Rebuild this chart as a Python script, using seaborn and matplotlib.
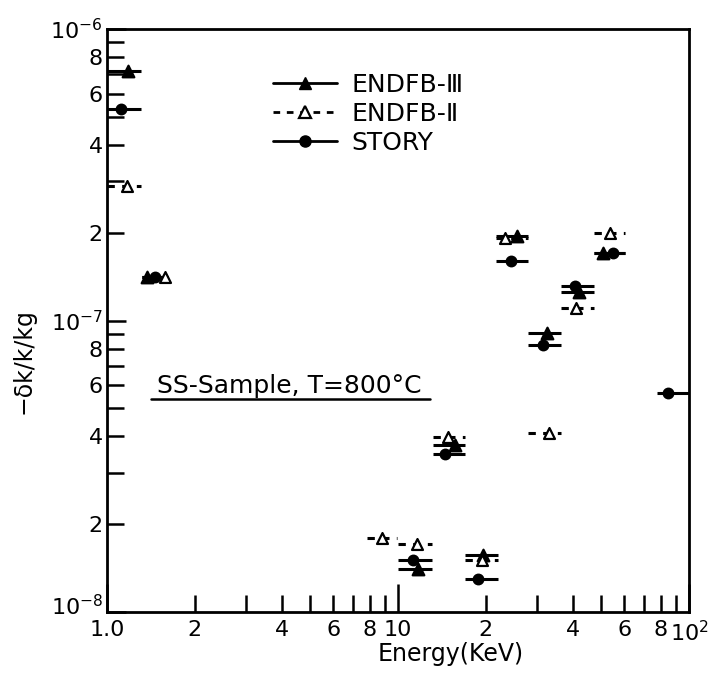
import matplotlib
matplotlib.use("Agg")
import matplotlib.pyplot as plt
import matplotlib.transforms as mtransforms
import pandas as pd
import seaborn as sns
from matplotlib.lines import Line2D
from matplotlib.ticker import FixedLocator, FixedFormatter

# Energy-group sensitivities (-dk/k per kg) for an SS sample at 800 C.
# Each point: marker energy (keV), value, and energy-group bounds (keV).
e3_energy = [1.18, 1.37, 11.7, 15.7, 19.6, 25.6, 32.5, 42.0, 50.6]
e3_value = [7.2e-7, 1.41e-7, 1.41e-8, 3.74e-8, 1.57e-8, 1.95e-7, 9.06e-8, 1.25e-7, 1.70e-7]
e3_lo = [1.0, 1.32, 10.0, 13.2, 17.0, 21.8, 28.0, 36.3, 47.0]
e3_hi = [1.31, 1.62, 13.1, 17.0, 22.0, 28.0, 36.3, 47.0, 60.5]

e2_energy = [1.17, 1.58, 8.8, 11.6, 14.9, 19.4, 23.3, 33.0, 41.0, 53.5]
e2_value = [2.89e-7, 1.41e-7, 1.79e-8, 1.71e-8, 3.98e-8, 1.51e-8, 1.92e-7, 4.1e-8, 1.10e-7, 2.0e-7]
e2_lo = [1.0, 1.32, 7.8, 10.0, 13.2, 17.0, 21.8, 28.0, 36.3, 47.0]
e2_hi = [1.31, 1.62, 9.9, 13.1, 17.0, 22.0, 28.0, 36.3, 47.0, 60.5]

st_energy = [1.12, 1.46, 11.3, 14.5, 18.8, 24.4, 31.4, 40.6, 55.0, 84.7]
st_value = [5.32e-7, 1.41e-7, 1.51e-8, 3.48e-8, 1.30e-8, 1.60e-7, 8.24e-8, 1.31e-7, 1.70e-7, 5.64e-8]
st_lo = [1.0, 1.32, 10.0, 13.2, 17.0, 21.8, 28.0, 36.3, 47.0, 77.5]
st_hi = [1.31, 1.62, 13.1, 17.0, 22.0, 28.0, 36.3, 47.0, 60.5, 100.0]

series_names = ["ENDFB-Ⅲ", "ENDFB-Ⅱ", "STORY"]

x_major = [1, 10, 100]
x_major_labels = ["1.0", "10", "$10^{2}$"]
x_minor = [2, 3, 4, 5, 6, 7, 8, 9, 20, 30, 40, 50, 60, 70, 80, 90]
x_minor_labels = ["2", "", "4", "", "6", "", "8", "", "2", "", "4", "", "6", "", "8", ""]
y_major = [1e-8, 1e-7, 1e-6]
y_major_labels = ["$10^{-8}$", "$10^{-7}$", "$10^{-6}$"]
y_minor = [2e-8, 3e-8, 4e-8, 5e-8, 6e-8, 7e-8, 8e-8, 9e-8,
           2e-7, 3e-7, 4e-7, 5e-7, 6e-7, 7e-7, 8e-7, 9e-7]
y_minor_labels = ["2", "", "4", "", "6", "", "8", "",
                  "2", "", "4", "", "6", "", "8", ""]

frames = []
for name, en, val, lo, hi in [
    (series_names[0], e3_energy, e3_value, e3_lo, e3_hi),
    (series_names[1], e2_energy, e2_value, e2_lo, e2_hi),
    (series_names[2], st_energy, st_value, st_lo, st_hi),
]:
    frames.append(pd.DataFrame({"energy": en, "value": val, "lo": lo, "hi": hi,
                                "source": name}))
df = pd.concat(frames, ignore_index=True)

sns.set_theme(style="ticks", rc={
    "axes.edgecolor": "black", "text.color": "black", "axes.labelcolor": "black",
    "xtick.color": "black", "ytick.color": "black",
})
plt.rcParams["font.family"] = ["DejaVu Sans", "Noto Sans CJK JP"]
plt.rcParams["mathtext.fontset"] = "dejavusans"

fig = plt.figure(figsize=(7.12, 6.76), dpi=100)
fig.patch.set_facecolor("white")
ax = fig.add_axes([107 / 712, 1 - 612 / 676, 582 / 712, 583 / 676])
ax.set_xscale("log")
ax.set_yscale("log")

dash = (0, (2.4, 2.4))
styles = {
    series_names[0]: dict(marker="^", face="black", s=70, ls="solid"),
    series_names[1]: dict(marker="^", face="white", s=62, ls=dash),
    series_names[2]: dict(marker="o", face="black", s=48, ls="solid"),
}

for name in series_names:
    sub = df[df["source"] == name]
    st = styles[name]
    lc = ax.hlines(sub["value"], sub["lo"], sub["hi"], colors="black", linewidth=2.2,
                   zorder=2)
    lc.set_linestyle(st["ls"])
    sns.scatterplot(data=sub, x="energy", y="value", marker=st["marker"], s=st["s"],
                    color=st["face"], edgecolor="black", linewidth=1.6, ax=ax,
                    zorder=3, legend=False)

ax.set_xlim(1, 100)
ax.set_ylim(1e-8, 1e-6)

ax.xaxis.set_major_locator(FixedLocator(x_major))
ax.xaxis.set_major_formatter(FixedFormatter(x_major_labels))
ax.xaxis.set_minor_locator(FixedLocator(x_minor))
ax.xaxis.set_minor_formatter(FixedFormatter(x_minor_labels))
ax.yaxis.set_major_locator(FixedLocator(y_major))
ax.yaxis.set_major_formatter(FixedFormatter(y_major_labels))
ax.yaxis.set_minor_locator(FixedLocator(y_minor))
ax.yaxis.set_minor_formatter(FixedFormatter(y_minor_labels))

ax.tick_params(which="both", direction="in", top=False, right=False, width=1.8,
               labelsize=16)
ax.tick_params(axis="x", which="major", length=20, pad=6)
ax.tick_params(axis="x", which="minor", length=12, pad=6)
ax.tick_params(axis="y", which="major", length=14, pad=3)
ax.tick_params(axis="y", which="minor", length=12, pad=3)

for sp in ax.spines.values():
    sp.set_linewidth(2.0)
    sp.set_visible(True)

ax.set_xlabel("Energy(KeV)", fontsize=17)
ax.xaxis.set_label_coords(0.591, -0.052)
ax.set_ylabel("−δk/k/kg", fontsize=17)
ax.yaxis.set_label_coords(-0.122, 0.43)

handles = [
    Line2D([], [], color="black", lw=2.0, marker="^", markersize=9,
           markerfacecolor="black", markeredgecolor="black"),
    Line2D([], [], color="black", lw=2.0, ls=dash, marker="^", markersize=9,
           markerfacecolor="white", markeredgecolor="black", markeredgewidth=1.6),
    Line2D([], [], color="black", lw=2.0, marker="o", markersize=8,
           markerfacecolor="black", markeredgecolor="black"),
]
ax.legend(handles, series_names, loc="upper left", bbox_to_anchor=(0.285, 0.925),
          frameon=False, fontsize=18, handlelength=2.56, handletextpad=0.6,
          labelspacing=0.2, borderpad=0, borderaxespad=0)

note = ax.text(0.086, 0.376, "SS-Sample, T=800°C", transform=ax.transAxes,
               fontsize=18, ha="left", va="baseline")

fig.canvas.draw()

# lift the bottom decade label clear of the "1.0" below it
bottom_label = ax.yaxis.get_major_ticks()[0].label1
bottom_label.set_transform(bottom_label.get_transform()
                           + mtransforms.ScaledTranslation(0, 5 / 72, fig.dpi_scale_trans))

# underline the sample note
bb = note.get_window_extent()
W, H = fig.bbox.width, fig.bbox.height
uy = (bb.y0 - 1) / H
fig.add_artist(Line2D([(bb.x0 - 6) / W, (bb.x1 + 8) / W], [uy, uy],
                      transform=fig.transFigure, color="black", lw=1.8))

fig.savefig("out.png", dpi=100, facecolor="white")
